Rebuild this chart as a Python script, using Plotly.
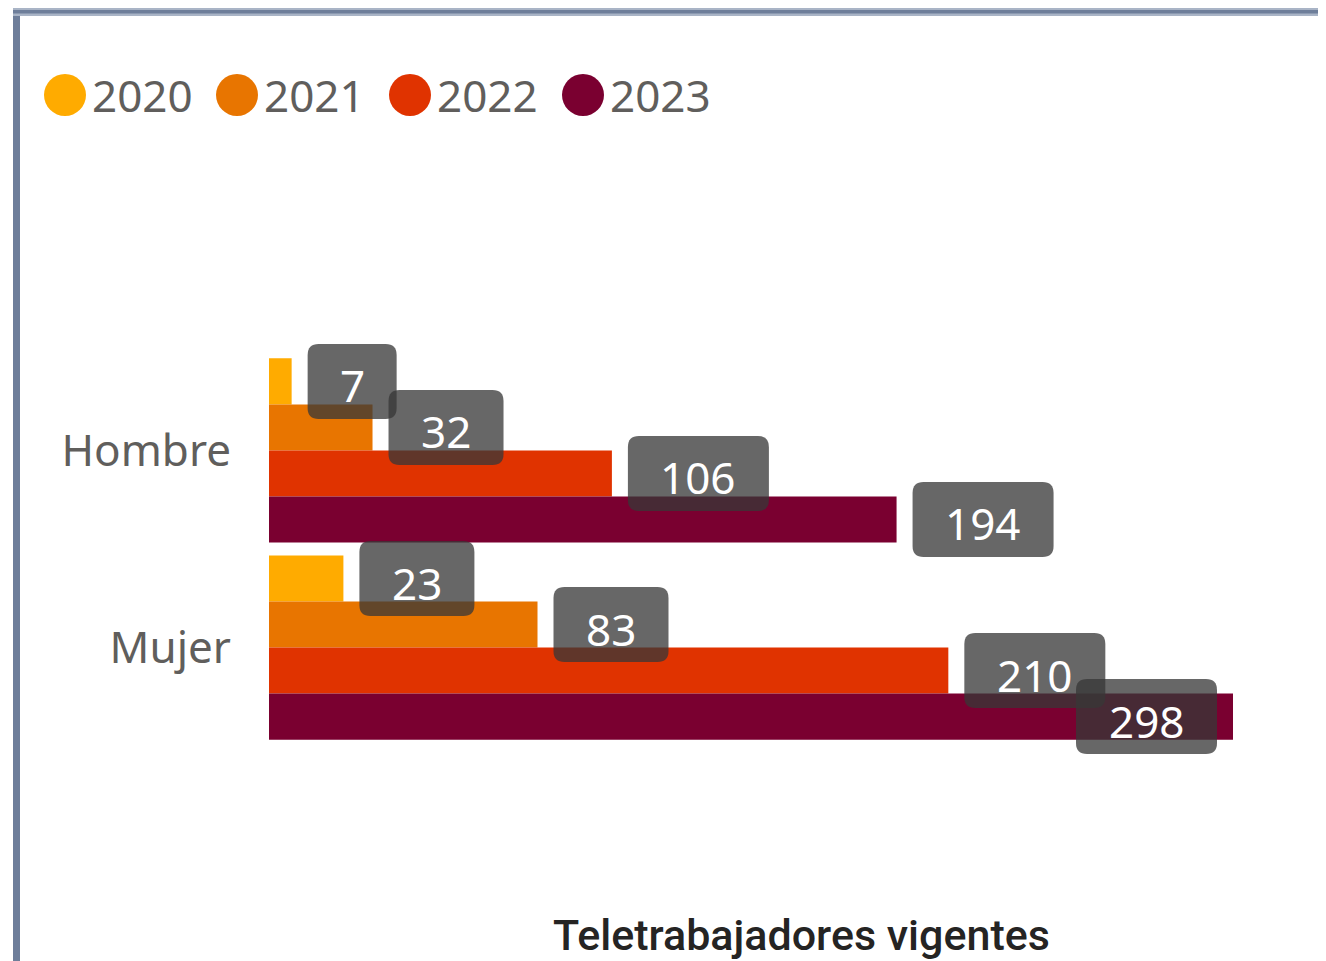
import plotly.graph_objects as go

# ---------- Data ----------
categories = ["Hombre", "Mujer"]
years = ["2020", "2021", "2022", "2023"]
hombre = [7, 32, 106, 194]
mujer = [23, 83, 210, 298]
colors = ["#FFAB00", "#E87500", "#E03300", "#7A0030"]

# ---------- Geometry ----------
# the page body has an 8px margin, so the figure is drawn at (8, 8)
OFF = 8
W, H = 1326 - OFF, 961 - OFF
L, R, T, B = 269 - OFF, 93, 273 - OFF, 136
plot_w = W - L - R
plot_h = H - T - B
x_max = max(hombre + mujer)
y_range = [1.9, -0.9]
bargap = 0.066
px_x = plot_w / x_max
px_y = plot_h / abs(y_range[0] - y_range[1])

label_font = "Noto Sans"
gray_text = "#605E5C"


def paper_x(px):
    # px = window pixel
    return (px - OFF - L) / plot_w


def paper_y(py):
    return (H - B - (py - OFF)) / plot_h


def rounded_path(x0, x1, y0, y1, rx, ry):
    return (f"M {x0 + rx},{y0} L {x1 - rx},{y0} Q {x1},{y0} {x1},{y0 + ry} "
            f"L {x1},{y1 - ry} Q {x1},{y1} {x1 - rx},{y1} "
            f"L {x0 + rx},{y1} Q {x0},{y1} {x0},{y1 - ry} "
            f"L {x0},{y0 + ry} Q {x0},{y0} {x0 + rx},{y0} Z")


fig = go.Figure()

for i, year in enumerate(years):
    fig.add_trace(go.Bar(
        name=year,
        y=categories,
        x=[hombre[i], mujer[i]],
        orientation="h",
        marker=dict(color=colors[i], line=dict(width=0)),
        showlegend=False,
        hoverinfo="x+name"
    ))

shapes = []
annotations = []

# ---------- Data labels (rounded dark boxes) ----------
slot = (1 - bargap) / len(years)
for c, series in enumerate([hombre, mujer]):
    for i, v in enumerate(series):
        yc = c - (1 - bargap) / 2 + (i + 0.5) * slot
        end_px = v * px_x
        box_w = 63 + 26 * len(str(v))
        if end_px + 16 + box_w > plot_w:
            left_px = end_px - 16 - box_w
        else:
            left_px = end_px + 16
        x0 = left_px / px_x
        x1 = (left_px + box_w) / px_x
        hh = 37.5 / px_y
        shapes.append(dict(
            type="path", xref="x", yref="y",
            path=rounded_path(x0, x1, yc - hh, yc + hh, 11 / px_x, 11 / px_y),
            fillcolor="rgba(55,55,55,0.76)", line=dict(width=0), layer="above"
        ))
        annotations.append(dict(
            x=(x0 + x1) / 2, y=yc, xref="x", yref="y", text=str(v),
            showarrow=False, yshift=-4,
            font=dict(family=label_font, size=44, color="white")
        ))

# ---------- Legend (circles) ----------
legend_x = [65, 237, 410, 583]
for i, year in enumerate(years):
    shapes.append(dict(
        type="circle", xref="paper", yref="paper",
        xsizemode="pixel", ysizemode="pixel",
        xanchor=paper_x(legend_x[i]), yanchor=paper_y(95),
        x0=-21, x1=21, y0=-21, y1=21,
        fillcolor=colors[i], line=dict(width=0)
    ))
    annotations.append(dict(
        x=paper_x(legend_x[i] + 25), y=paper_y(95), xref="paper", yref="paper",
        text=year, showarrow=False, xanchor="left", yanchor="middle",
        font=dict(family=label_font, size=44, color=gray_text)
    ))

# ---------- Frame lines ----------
shapes.append(dict(type="rect", xref="paper", yref="paper",
                   x0=paper_x(13), x1=paper_x(20), y0=paper_y(961), y1=paper_y(8),
                   fillcolor="#6E7E9A", line=dict(width=0)))
shapes.append(dict(type="rect", xref="paper", yref="paper",
                   x0=paper_x(13), x1=paper_x(1326), y0=paper_y(16), y1=paper_y(8),
                   fillcolor="#A9B4C6", line=dict(width=0)))
shapes.append(dict(type="rect", xref="paper", yref="paper",
                   x0=paper_x(13), x1=paper_x(1326), y0=paper_y(13.5), y1=paper_y(10),
                   fillcolor="#6E7E9A", line=dict(width=0)))

# ---------- Title ----------
annotations.append(dict(
    x=paper_x(801), y=paper_y(935), xref="paper", yref="paper",
    text="Teletrabajadores vigentes", showarrow=False,
    xanchor="center", yanchor="middle",
    font=dict(family="Roboto", size=43, color="#252423", weight=500)
))

fig.update_layout(
    width=W, height=H,
    margin=dict(l=L, r=R, t=T, b=B, pad=0),
    barmode="group",
    bargap=bargap,
    bargroupgap=0,
    plot_bgcolor="white",
    paper_bgcolor="white",
    xaxis=dict(visible=False, range=[0, x_max], fixedrange=True),
    yaxis=dict(
        type="category", range=y_range, autorange=False,
        showgrid=False, zeroline=False, showline=False, ticks="",
        ticklabelstandoff=37,
        tickfont=dict(family=label_font, size=44, color=gray_text)
    ),
    shapes=shapes,
    annotations=annotations,
    showlegend=False
)

fig.write_html("out.html")
